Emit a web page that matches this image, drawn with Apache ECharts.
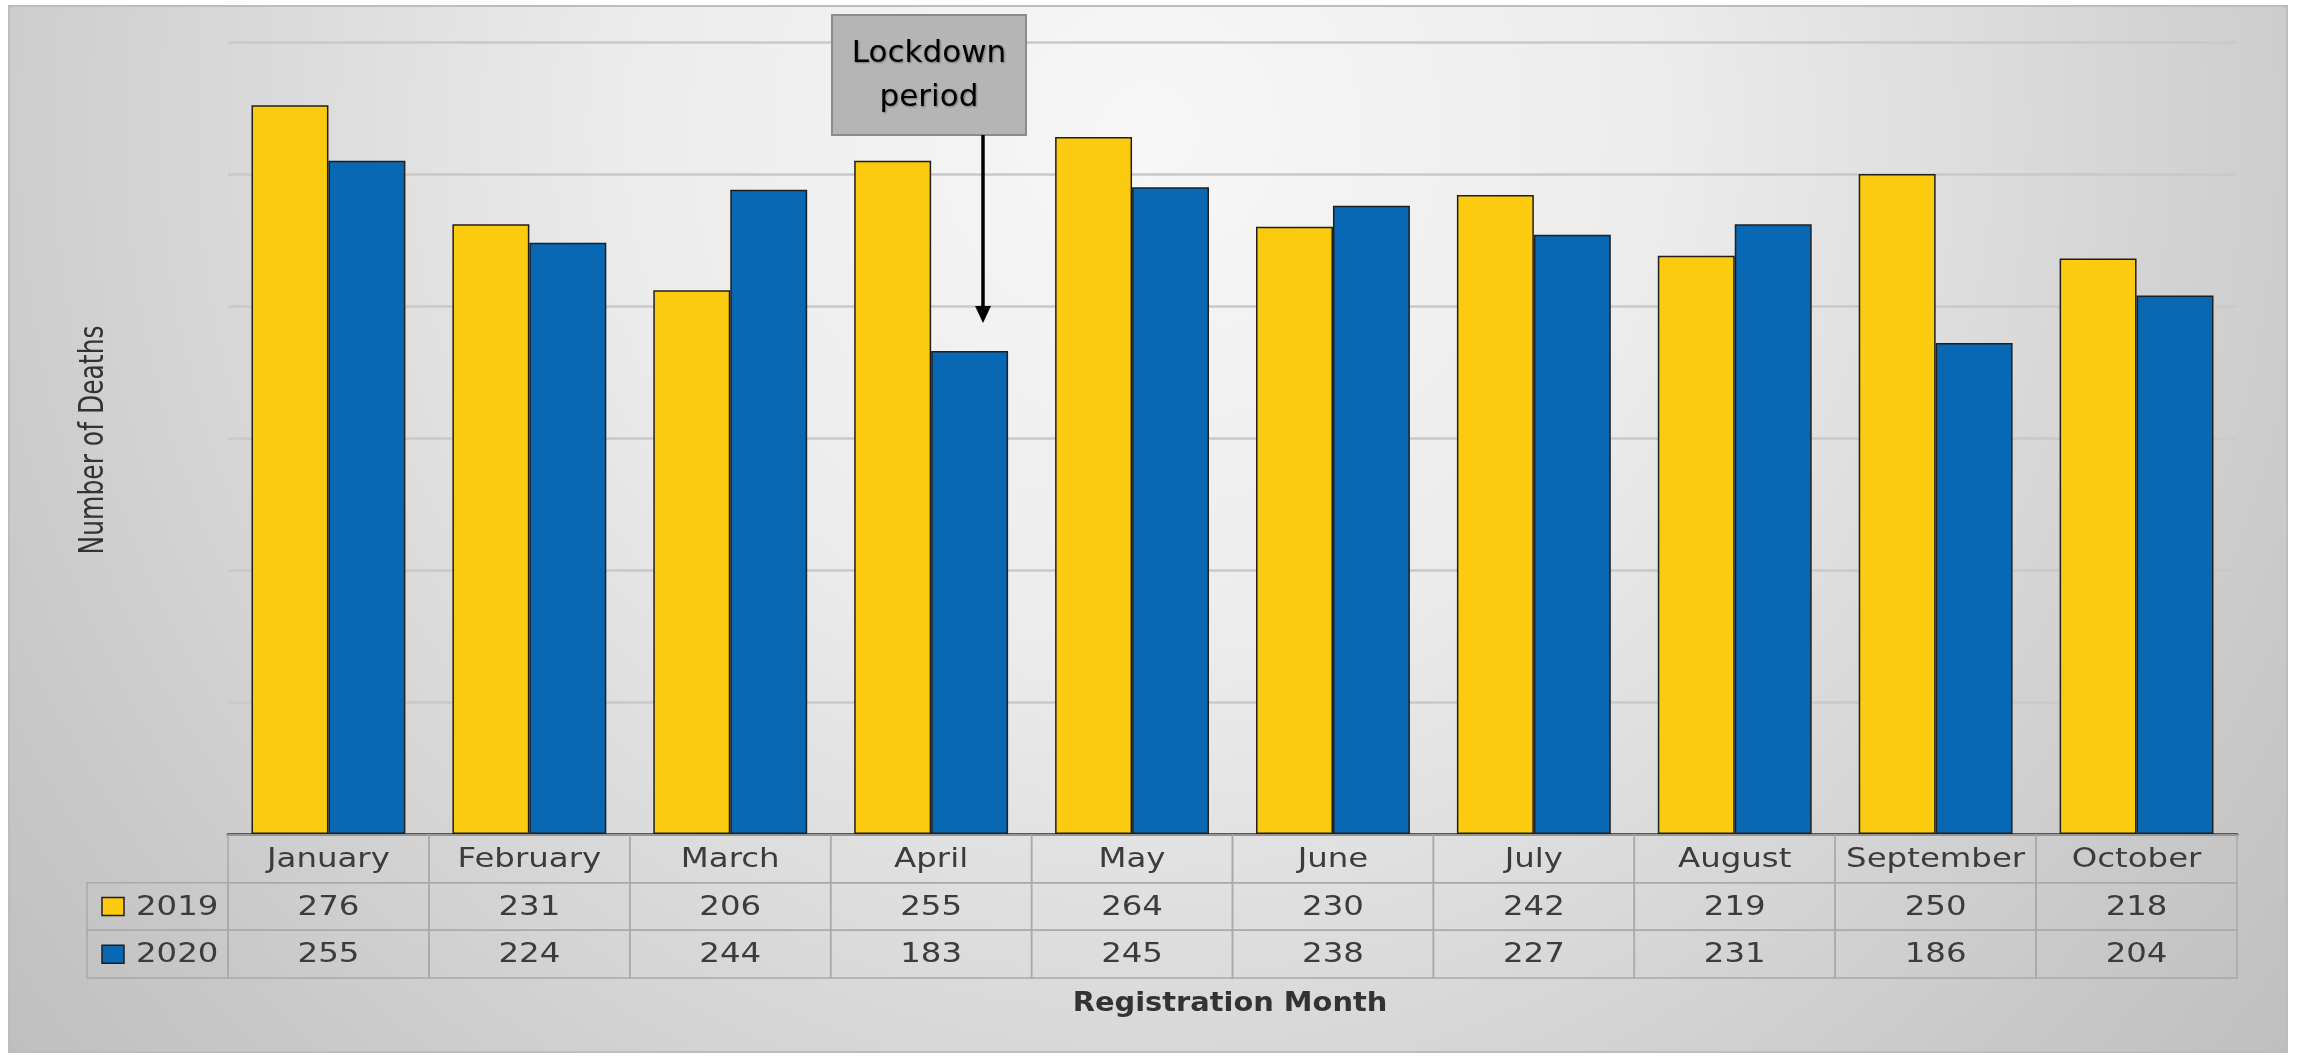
<!DOCTYPE html>
<html>
<head>
<meta charset="utf-8">
<script src="https://cdn.jsdelivr.net/npm/echarts@6/dist/echarts.min.js"></script>
<style>
  html, body { margin: 0; padding: 0; background: #ffffff; }
  #chart { width: 2297px; height: 1056px; }
</style>
</head>
<body>
<div id="chart"></div>
<script>
// ---- data ----
const months = ['January', 'February', 'March', 'April', 'May', 'June', 'July', 'August', 'September', 'October'];
const seriesNames = ['2019', '2020'];
const deaths2019 = [276, 231, 206, 255, 264, 230, 242, 219, 250, 218];
const deaths2020 = [255, 224, 244, 183, 245, 238, 227, 231, 186, 204];
const seriesColors = ['#FCCA0E', '#0868B4'];
const yMin = 0, yMax = 300, yInterval = 50;
const tableRows = ['Month', '2019', '2020'];
const axisTitleY = 'Number of Deaths';
const axisTitleX = 'Registration Month';
const annotationText = 'Lockdown\nperiod';

// ---- layout ----
const FONT = '"DejaVu Sans", "Noto Sans", sans-serif';
const plotLeft = 228, plotRight = 2237, plotTop = 42, plotBottom = 834;
const tableTop = 835, tableBottom = 978;
const W = 2297;

const rowValues = [months, deaths2019, deaths2020];
const tableData = [];
for (let r = 0; r < tableRows.length; r++) {
  for (let i = 0; i < months.length; i++) tableData.push([i, r]);
}

const chart = echarts.init(document.getElementById('chart'), null, { renderer: 'canvas' });

const legendGraphics = [];
const rowH = (tableBottom - tableTop) / 3;
for (let k = 0; k < 2; k++) {
  const y0 = tableTop + rowH * (k + 1);
  legendGraphics.push({
    type: 'rect', z: 5, silent: true,
    shape: { x: 87, y: y0, width: plotLeft - 87, height: rowH },
    style: { fill: 'none', stroke: '#a9a9a9', lineWidth: 1.5 }
  });
  legendGraphics.push({
    type: 'rect', z: 6, silent: true,
    shape: { x: 102, y: y0 + rowH / 2 - 9, width: 22, height: 18 },
    style: { fill: seriesColors[k], stroke: '#1f1f1f', lineWidth: 1.5 }
  });
  legendGraphics.push({
    type: 'text', z: 6, silent: true,
    x: 136, y: y0 + rowH / 2 + 1, scaleX: 1.2,
    style: { text: seriesNames[k], font: '27px ' + FONT, fill: '#3c3c3c', align: 'left', verticalAlign: 'middle' }
  });
}

const option = {
  animation: false,
  graphic: [
    {
      type: 'rect', z: -10, silent: true,
      shape: { x: 9, y: 6, width: 2278, height: 1046 },
      style: {
        fill: new echarts.graphic.RadialGradient(0.5, 0.12, 1.4, [
          { offset: 0, color: '#f7f7f7' },
          { offset: 0.35, color: '#ececec' },
          { offset: 0.6, color: '#dadada' },
          { offset: 0.85, color: '#c8c8c8' },
          { offset: 1, color: '#bfbfbf' }
        ]),
        stroke: '#bdbdbd', lineWidth: 2
      }
    },
    ...legendGraphics,
    {
      type: 'text', z: 6, silent: true,
      x: 94, y: 440, rotation: Math.PI / 2, scaleY: 1.35,
      style: { text: axisTitleY, font: '25px ' + FONT, fill: '#333333', align: 'center', verticalAlign: 'middle' }
    },
    {
      type: 'text', z: 6, silent: true,
      x: 1230, y: 1004, scaleX: 1.11,
      style: { text: axisTitleX, font: 'bold 26px ' + FONT, fill: '#333333', align: 'center', verticalAlign: 'middle' }
    },
    // annotation
    {
      type: 'rect', z: 20, silent: true,
      shape: { x: 832, y: 15, width: 194, height: 120 },
      style: { fill: '#b5b5b5', stroke: '#8c8c8c', lineWidth: 2 }
    },
    {
      type: 'text', z: 21, silent: true,
      x: 929, y: 76,
      style: {
        text: annotationText, font: '31px ' + FONT, fill: '#000000', align: 'center', verticalAlign: 'middle',
        lineHeight: 44, textShadowColor: 'rgba(0,0,0,0.35)', textShadowBlur: 2, textShadowOffsetX: 1, textShadowOffsetY: 1
      }
    },
    {
      type: 'line', z: 20, silent: true,
      shape: { x1: 983, y1: 135, x2: 983, y2: 310 },
      style: { stroke: '#000000', lineWidth: 3.5 }
    },
    {
      type: 'polygon', z: 20, silent: true,
      shape: { points: [[975, 306], [991, 306], [983, 323]] },
      style: { fill: '#000000' }
    }
  ],
  grid: [
    { left: plotLeft, right: W - plotRight, top: plotTop, height: plotBottom - plotTop, containLabel: false },
    { left: plotLeft, right: W - plotRight, top: tableTop, height: tableBottom - tableTop, containLabel: false }
  ],
  xAxis: [
    {
      type: 'category', gridIndex: 0, data: months,
      axisLabel: { show: false }, axisTick: { show: false },
      axisLine: { show: true, lineStyle: { color: '#5a5a5a', width: 3 } },
      splitLine: { show: false }
    },
    {
      type: 'category', gridIndex: 1, data: months, show: false
    }
  ],
  yAxis: [
    {
      type: 'value', gridIndex: 0, min: yMin, max: yMax, interval: yInterval,
      axisLabel: { show: false }, axisTick: { show: false }, axisLine: { show: false },
      splitLine: { show: true, lineStyle: { color: '#c9c9c9', width: 2.5 } }
    },
    {
      type: 'category', gridIndex: 1, data: tableRows, inverse: true, show: false
    }
  ],
  series: [
    {
      name: seriesNames[0], type: 'bar', xAxisIndex: 0, yAxisIndex: 0, data: deaths2019,
      barGap: '0%', barCategoryGap: '23.4%',
      itemStyle: { color: seriesColors[0], borderColor: '#1f1f1f', borderWidth: 1.5 }
    },
    {
      name: seriesNames[1], type: 'bar', xAxisIndex: 0, yAxisIndex: 0, data: deaths2020,
      barGap: '0%', barCategoryGap: '23.4%',
      itemStyle: { color: seriesColors[1], borderColor: '#1f1f1f', borderWidth: 1.5 }
    },
    {
      type: 'custom', xAxisIndex: 1, yAxisIndex: 1, data: tableData, silent: true, clip: false,
      renderItem: function (params, api) {
        const i = api.value(0), r = api.value(1);
        const c = api.coord([i, r]);
        const s = api.size([1, 1]);
        return {
          type: 'group',
          children: [
            {
              type: 'rect',
              shape: { x: c[0] - s[0] / 2, y: c[1] - s[1] / 2, width: s[0], height: s[1] },
              style: { fill: 'none', stroke: '#a9a9a9', lineWidth: 1.5 }
            },
            {
              type: 'text', x: c[0], y: c[1] + 1, scaleX: 1.2,
              style: {
                text: String(rowValues[r][i]), font: '27px ' + FONT, fill: '#3c3c3c',
                align: 'center', verticalAlign: 'middle'
              }
            }
          ]
        };
      }
    }
  ]
};

chart.setOption(option);
</script>
</body>
</html>
